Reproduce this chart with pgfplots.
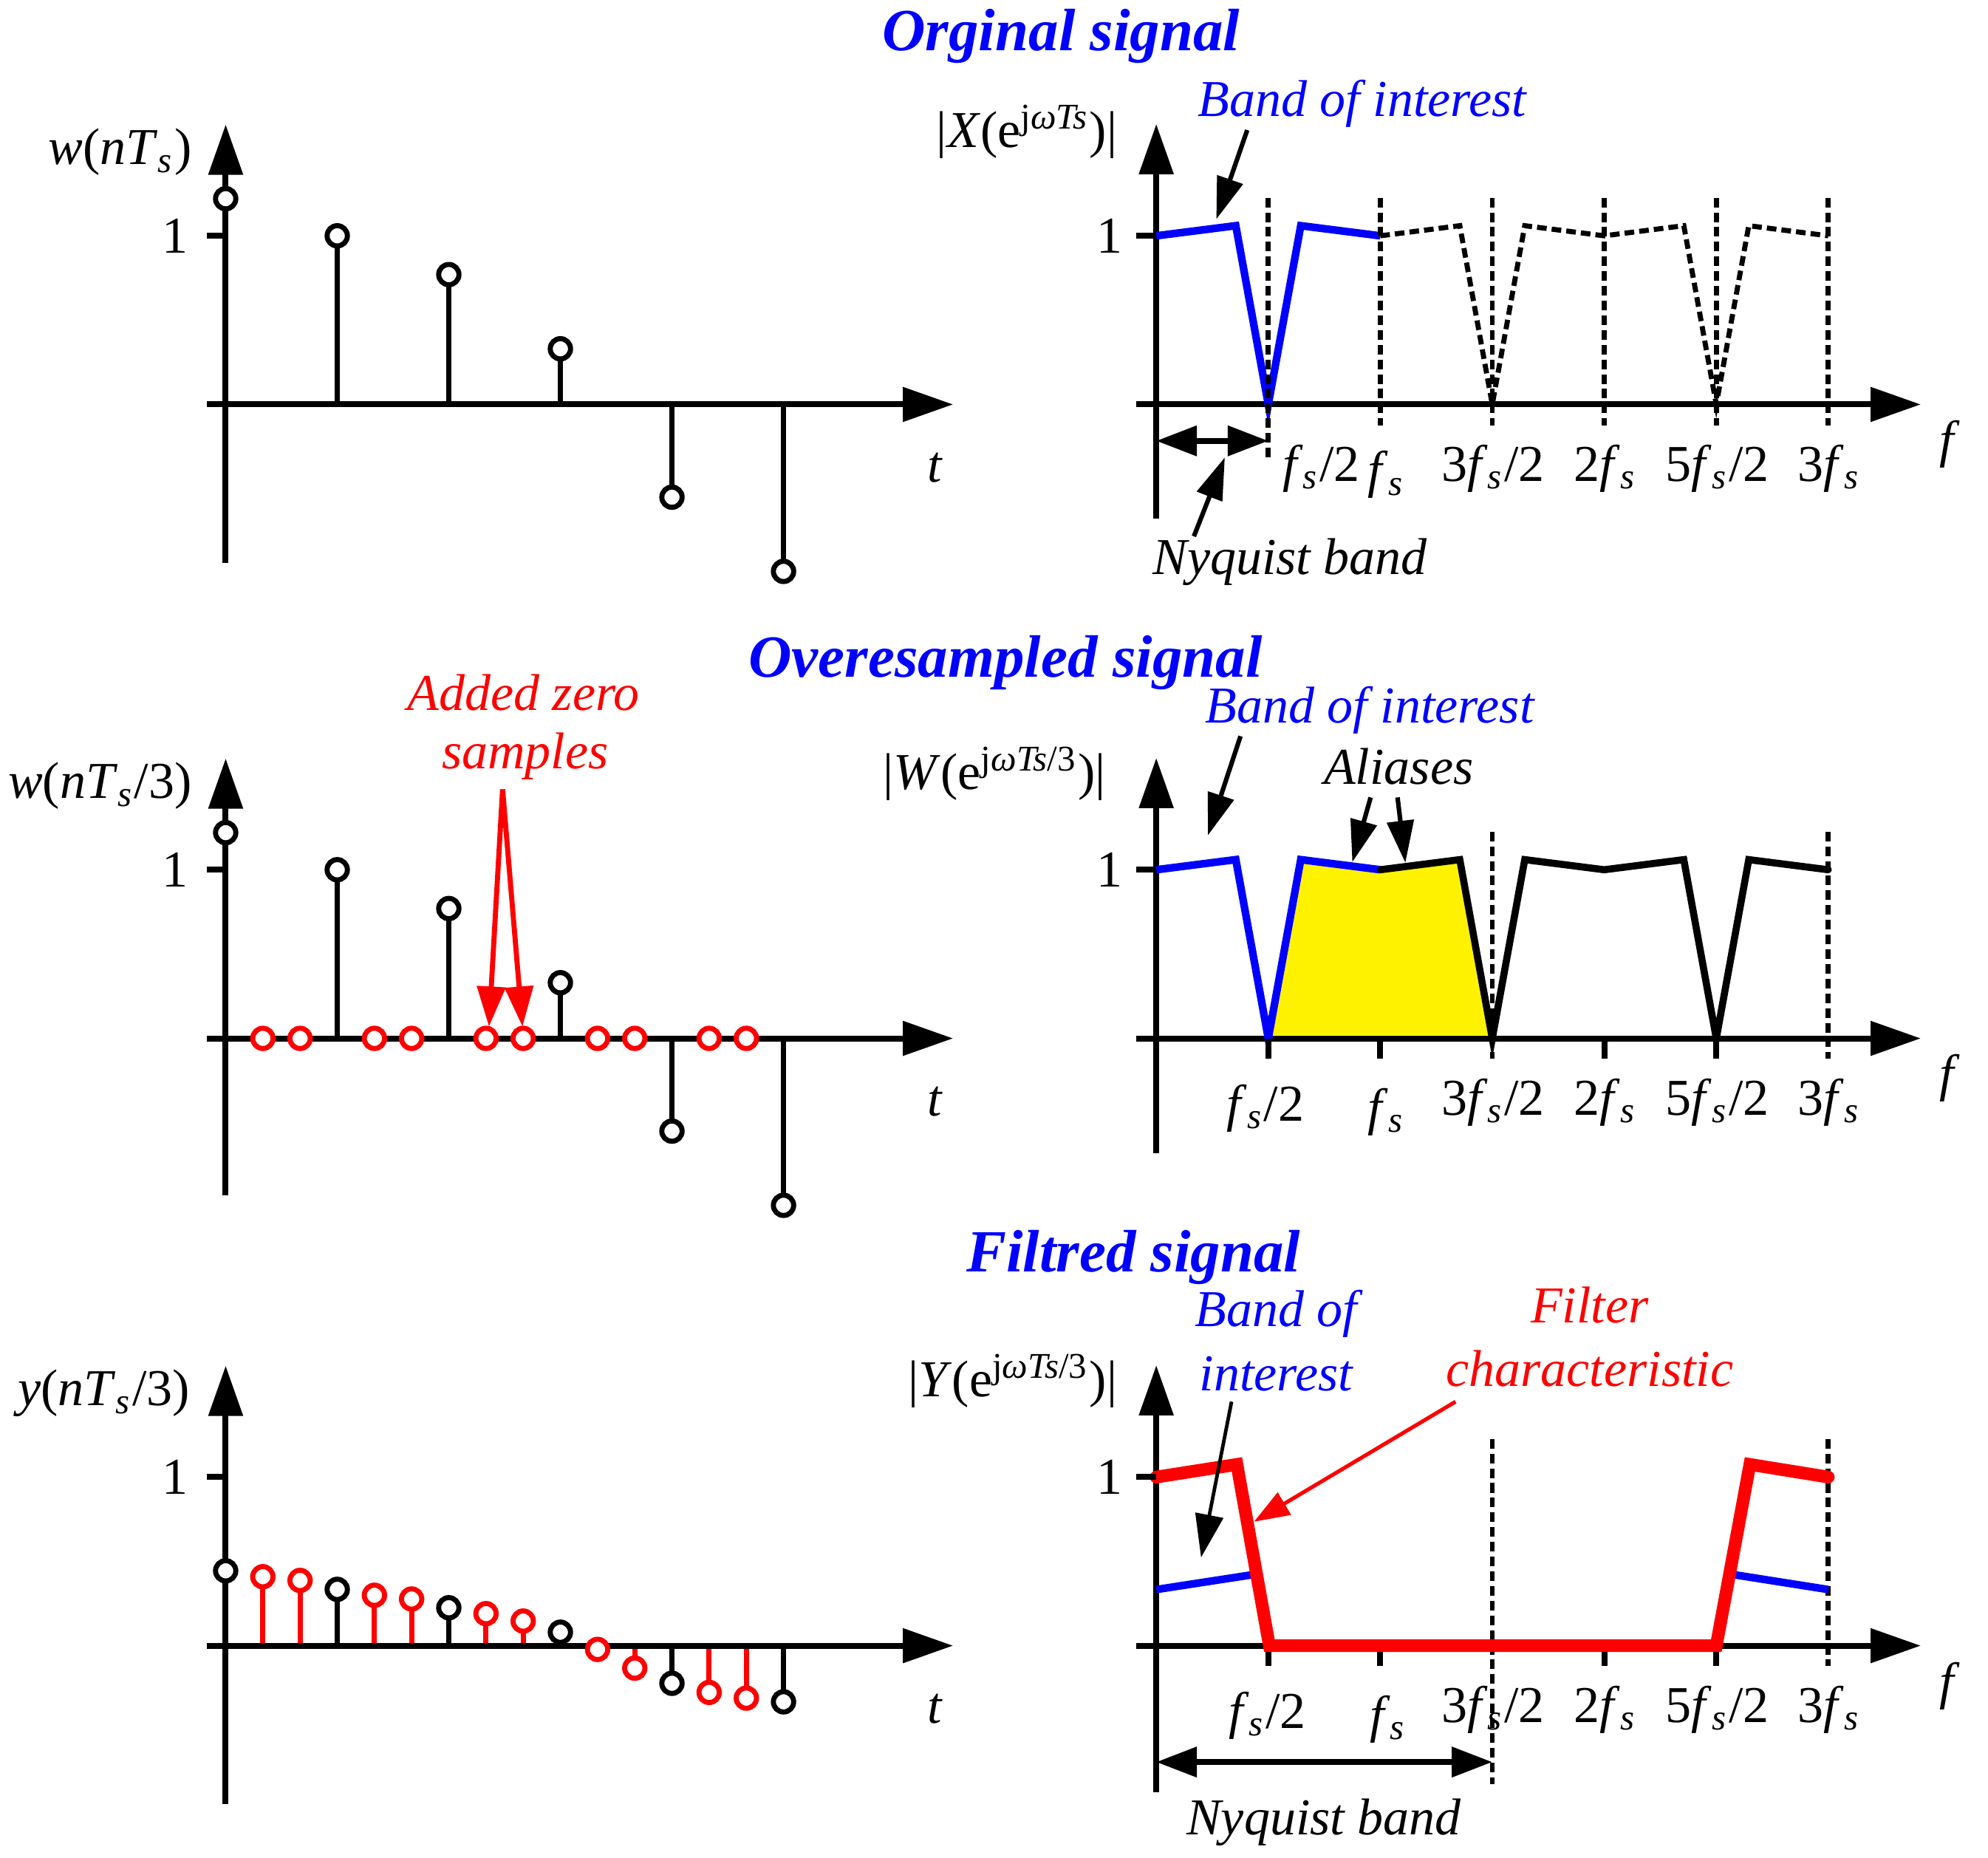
\documentclass[border=0pt]{standalone}
\usepackage{fontspec}
\setmainfont{Liberation Serif}
\usepackage{pgfplots}
\pgfplotsset{compat=1.18}
\usetikzlibrary{arrows.meta}
\newcommand{\fs}{\textit{f}\textsubscript{\textit{s}}}
\pgfplotsset{
  panel/.style={
    axis lines=middle,
    axis line style={line width=1.17pt},
    every inner x axis line/.append style={-{Triangle[length=9.9pt,width=6.6pt]}},
    every inner y axis line/.append style={-{Triangle[length=9.9pt,width=6.6pt]}},
    ticks=none, clip=false, anchor=origin,
    y=33.25pt,
  },
  leftpanel/.style={panel, x=22pt, xmin=-0.17, xmax=6.52, axis on top},
  rightpanel/.style={panel, x=44.17pt, xmin=-0.09, xmax=3.413},
  stemk/.style={ycomb, black, line width=1pt, mark=*, mark size=2pt,
     mark options={draw=black, fill=white, line width=1pt, solid}},
  stemr/.style={ycomb, red, line width=1pt, mark=*, mark size=2pt,
     mark options={draw=red, fill=white, line width=1pt, solid}},
}
\tikzset{
  lab/.style={inner sep=0pt, font=\fontsize{10.2}{12.2}\selectfont},
  ttl/.style={inner sep=0pt, font=\fontsize{11.8}{14}\selectfont\bfseries\itshape, text=blue},
  tk/.style={line width=1.17pt},
  vd/.style={line width=1pt, dash pattern=on 1.9pt off 1pt},
  ann/.style={line width=0.9pt, -{Triangle[length=8.3pt,width=5.2pt]}},
  dbl/.style={line width=1.1pt, {Triangle[length=8pt,width=5.8pt]}-{Triangle[length=8pt,width=5.8pt]}},
}
\begin{document}
\begin{tikzpicture}
\path[use as bounding box] (0,0) rectangle (392pt,-366.25pt);

% ---------------- Left, row 1
\begin{axis}[leftpanel, at={(44.5pt,-79.75pt)}, ymin=-0.94, ymax=1.66]
\addplot[stemk] coordinates {(0,1.22) (1,1.0) (2,0.77) (3,0.33) (4,-0.55) (5,-0.99)};
\draw[tk] (-0.17,1) -- (0,1);
\node[lab, anchor=east] at (-0.33,1) {1};
\node[lab, anchor=east] at (-0.295,1.496) {\textit{w}(\textit{nT}\textsubscript{\textit{s}})};
\node[lab, anchor=base] at (6.36,-0.46) {\textit{t}};
\end{axis}

% ---------------- Left, row 2
\begin{axis}[leftpanel, at={(44.5pt,-204.75pt)}, ymin=-0.93, ymax=1.66]
\addplot[stemk] coordinates {(0,1.22) (1,1.0) (2,0.77) (3,0.33) (4,-0.55) (5,-0.99)};
\addplot[only marks, mark=*, mark size=2pt, mark options={draw=red, fill=white, line width=1pt}]
  coordinates {(0.3333,0) (0.6667,0) (1.3333,0) (1.6667,0) (2.3333,0) (2.6667,0) (3.3333,0) (3.6667,0) (4.3333,0) (4.6667,0)};
\draw[red, line width=1pt, -{Triangle[length=7.9pt,width=5.5pt]}] (2.482,1.477) -- (2.36,0.07);
\draw[red, line width=1pt, -{Triangle[length=7.9pt,width=5.5pt]}] (2.482,1.477) -- (2.66,0.07);
\node[lab, anchor=base, text=red] at (2.67,1.945) {\itshape Added zero};
\node[lab, anchor=base, text=red] at (2.685,1.60) {\itshape samples};
\draw[tk] (-0.17,1) -- (0,1);
\node[lab, anchor=east] at (-0.33,1) {1};
\node[lab, anchor=east] at (-0.295,1.496) {\textit{w}(\textit{nT}\textsubscript{\textit{s}}/3)};
\node[lab, anchor=base] at (6.36,-0.46) {\textit{t}};
\end{axis}

% ---------------- Left, row 3
\begin{axis}[leftpanel, at={(44.5pt,-324.5pt)}, ymin=-0.94, ymax=1.66]
\addplot[stemk] coordinates {(0,0.444) (1,0.334) (2,0.225) (3,0.080) (4,-0.223) (5,-0.333)};
\addplot[stemr] coordinates {(0.3333,0.409) (0.6667,0.387) (1.3333,0.299) (1.6667,0.277) (2.3333,0.190) (2.6667,0.146) (3.3333,-0.022) (3.6667,-0.133) (4.3333,-0.277) (4.6667,-0.311)};
\draw[tk] (-0.17,1) -- (0,1);
\node[lab, anchor=east] at (-0.33,1) {1};
\node[lab, anchor=east] at (-0.31,1.496) {\textit{y}(\textit{nT}\textsubscript{\textit{s}}/3)};
\node[lab, anchor=base] at (6.36,-0.46) {\textit{t}};
\end{axis}

% ---------------- Right, row 1
\begin{axis}[rightpanel, at={(228pt,-79.75pt)}, ymin=-0.677, ymax=1.663]
\addplot[blue, line width=1.5pt] coordinates {(0,1) (0.355,1.06) (0.5,0) (0.645,1.06) (1,1)};
\addplot[black, vd] coordinates {(1,1) (1.355,1.06) (1.5,0) (1.645,1.06) (2,1) (2.355,1.06) (2.5,0) (2.645,1.06) (3,1)};
\draw[vd] (0.5,1.226) -- (0.5,-0.343);
\draw[vd] (1,1.226) -- (1,-0.127);
\draw[vd] (1.5,1.226) -- (1.5,-0.127);
\draw[vd] (2,1.226) -- (2,-0.127);
\draw[vd] (2.5,1.226) -- (2.5,-0.127);
\draw[vd] (3,1.226) -- (3,-0.127);
\draw[tk] (-0.09,1) -- (0,1);
\node[lab, anchor=east] at (-0.147,1) {1};
\node[lab, anchor=east] at (-0.17,1.617) {|\textit{X}(e\textsuperscript{j\textit{ωTs}})|};
\node[lab, anchor=base west, text=blue] at (0.181,1.707) {\itshape Band of interest};
\draw[ann] (0.406,1.627) -- (0.268,1.098);
\draw[dbl] (0,-0.216) -- (0.5,-0.216);
\draw[ann] (0.168,-0.782) -- (0.306,-0.314);
\node[lab, anchor=base west] at (-0.02,-1.008) {\itshape Nyquist band};
\node[lab, anchor=base] at (0.736,-0.456) {\fs/2};
\node[lab, anchor=base] at (1.027,-0.493) {\fs};
\node[lab, anchor=base] at (1.503,-0.456) {3\fs/2};
\node[lab, anchor=base] at (2.005,-0.456) {2\fs};
\node[lab, anchor=base] at (2.505,-0.456) {5\fs/2};
\node[lab, anchor=base] at (3.005,-0.456) {3\fs};
\node[lab, anchor=base] at (3.543,-0.312) {\textit{f}};
\end{axis}

% ---------------- Right, row 2
\begin{axis}[rightpanel, at={(228pt,-204.75pt)}, ymin=-0.68, ymax=1.663]
\addplot[fill=yellow, draw=none] coordinates {(0.5025,0.018) (0.645,1.06) (1,1) (1.355,1.06) (1.4975,0.018)} -- cycle;
\addplot[blue, line width=1.5pt] coordinates {(0,1) (0.355,1.06) (0.5,0) (0.645,1.06) (1,1)};
\addplot[black, line width=1.4pt, line cap=round] coordinates {(1,1) (1.355,1.06) (1.5,0) (1.645,1.06) (2,1) (2.355,1.06) (2.5,0) (2.645,1.06) (3,1)};
\draw[vd] (1.5,1.226) -- (1.5,-0.12);
\draw[vd] (3,1.226) -- (3,-0.12);
\draw[tk] (0.5,0) -- (0.5,-0.12);
\draw[tk] (1,0) -- (1,-0.12);
\draw[tk] (2,0) -- (2,-0.12);
\draw[tk] (2.5,0) -- (2.5,-0.12);
\draw[tk] (-0.09,1) -- (0,1);
\node[lab, anchor=east] at (-0.147,1) {1};
\node[lab, anchor=east] at (-0.221,1.571) {|\textit{W}(e\textsuperscript{j\textit{ωTs}/3})|};
\node[lab, anchor=base west, text=blue] at (0.215,1.872) {\itshape Band of interest};
\draw[ann] (0.376,1.792) -- (0.230,1.203);
\node[lab, anchor=base west] at (0.744,1.508) {\itshape Aliases};
\draw[ann] (0.957,1.429) -- (0.875,1.045);
\draw[ann] (1.077,1.429) -- (1.112,1.041);
\node[lab, anchor=base] at (0.487,-0.489) {\fs/2};
\node[lab, anchor=base] at (1.027,-0.511) {\fs};
\node[lab, anchor=base] at (1.503,-0.455) {3\fs/2};
\node[lab, anchor=base] at (2.005,-0.455) {2\fs};
\node[lab, anchor=base] at (2.505,-0.455) {5\fs/2};
\node[lab, anchor=base] at (3.005,-0.455) {3\fs};
\node[lab, anchor=base] at (3.543,-0.312) {\textit{f}};
\end{axis}

% ---------------- Right, row 3
\begin{axis}[rightpanel, at={(228pt,-324.5pt)}, ymin=-0.868, ymax=1.663]
\draw[vd] (1.5,1.226) -- (1.5,-0.82);
\draw[vd] (3,1.226) -- (3,-0.12);
\draw[tk] (0.5,0) -- (0.5,-0.12);
\draw[tk] (1,0) -- (1,-0.12);
\draw[tk] (2,0) -- (2,-0.12);
\draw[tk] (2.5,0) -- (2.5,-0.12);
\addplot[blue, line width=1.5pt] coordinates {(0,0.333) (0.45,0.425)};
\addplot[blue, line width=1.5pt] coordinates {(2.56,0.425) (3,0.333)};
\addplot[red, line width=2.5pt, line cap=round] coordinates {(0,1) (0.36,1.075) (0.505,0) (2.5,0) (2.65,1.075) (3,1)};
\draw[tk] (-0.09,1) -- (0,1);
\node[lab, anchor=east] at (-0.147,1) {1};
\node[lab, anchor=east] at (-0.17,1.571) {|\textit{Y}(e\textsuperscript{j\textit{ωTs}/3})|};
\node[lab, anchor=base, text=blue] at (0.535,1.891) {\itshape Band of};
\node[lab, anchor=base, text=blue] at (0.535,1.512) {\itshape interest};
\node[lab, anchor=base, text=red] at (1.935,1.915) {\itshape Filter};
\node[lab, anchor=base, text=red] at (1.935,1.538) {\itshape characteristic};
\draw[line width=0.7pt, -{Triangle[length=8.5pt,width=5.5pt]}] (0.336,1.447) -- (0.200,0.523);
\draw[red, line width=0.75pt, -{Triangle[length=7pt,width=5pt]}] (1.336,1.447) -- (0.436,0.735);
\draw[dbl] (0,-0.69) -- (1.5,-0.69);
\node[lab, anchor=base] at (0.748,-1.12) {\itshape Nyquist band};
\node[lab, anchor=base] at (0.496,-0.489) {\fs/2};
\node[lab, anchor=base] at (1.036,-0.511) {\fs};
\node[lab, anchor=base] at (1.503,-0.455) {3\fs/2};
\node[lab, anchor=base] at (2.005,-0.455) {2\fs};
\node[lab, anchor=base] at (2.505,-0.455) {5\fs/2};
\node[lab, anchor=base] at (3.005,-0.455) {3\fs};
\node[lab, anchor=base] at (3.543,-0.316) {\textit{f}};
\end{axis}

% ---------------- Titles
\node[ttl, anchor=base] at (209.25pt,-9.98pt) {Orginal signal};
\node[ttl, anchor=base] at (198.25pt,-133.5pt) {Overesampled signal};
\node[ttl, anchor=base] at (223.5pt,-250.75pt) {Filtred signal};
\end{tikzpicture}
\end{document}
